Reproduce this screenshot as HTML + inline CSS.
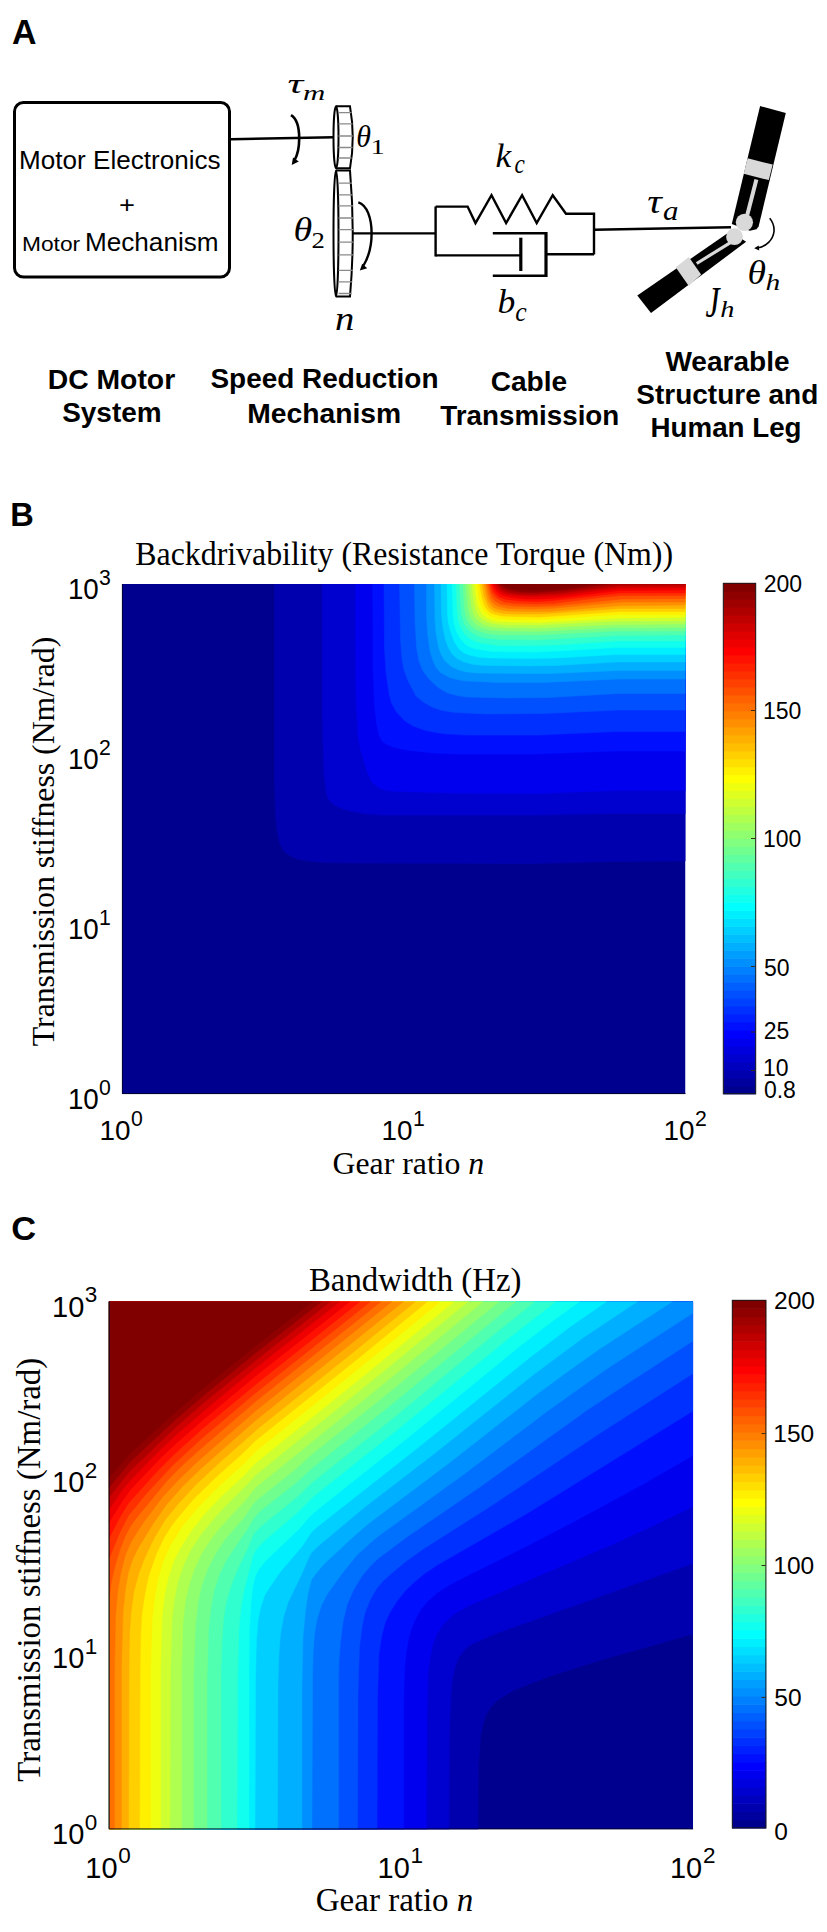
<!DOCTYPE html>
<html><head><meta charset="utf-8"><style>
html,body{margin:0;padding:0;background:#fff;}
body{width:827px;height:1932px;overflow:hidden;}
svg{display:block;}
.s{font-family:"Liberation Sans",sans-serif;}
.sb{font-family:"Liberation Sans",sans-serif;font-weight:bold;}
.r{font-family:"Liberation Serif",serif;}
.ri{font-family:"Liberation Serif",serif;font-style:italic;}
</style></head><body>
<svg width="827" height="1932" viewBox="0 0 827 1932">
<defs><clipPath id="cB"><rect x="122" y="584" width="563.5" height="510"/></clipPath><clipPath id="cC"><rect x="108.8" y="1301.4" width="584.3" height="527.9"/></clipPath></defs>
<rect width="827" height="1932" fill="#fff"/>
<!-- ================= PANEL A ================= -->
<g fill="none" stroke="#000">
<rect x="14.5" y="102.5" width="215" height="174.5" rx="9" stroke-width="3"/>
<path d="M231 139.2 L334 137.3" stroke-width="2.6"/>
<path d="M352.7 233.4 L436 233.4" stroke-width="2.2"/>
<!-- gear 1 -->
<g stroke-width="2">
<ellipse cx="336" cy="137.3" rx="2.5" ry="31"/>
<path d="M336 106.3 L350 106.3 Q355.5 137.3 350 168.3 L336 168.3"/>
<ellipse cx="336" cy="233.5" rx="2.5" ry="63"/>
<path d="M336 170.6 L350 170.6 Q355.5 233.5 350 296.4 L336 296.4"/>
</g>
<g stroke="#8a8a8a" stroke-width="1.3">
<path d="M338.5 112.7H351.5M338.5 123.9H352.5M338.5 136H352.8M338.5 147.5H352.5M338.5 158H351.5"/>
<path d="M338.6 183.2H352M338.6 194.8H352.6M338.6 205.8H353M338.6 218H353.2M338.6 229.6H353.3M338.6 242.2H353.3M338.6 254.8H353.2M338.6 270.3H352.8M338.6 281.9H352.4M338.6 293.5H351.6"/>
</g>
<!-- arrows -->
<path d="M291 115.2 C296.5 118.5 299.2 128 299.2 138.5 C299.2 149 297.5 155 294.5 160.5" stroke-width="2.6"/>
<path d="M358.3 202.3 C367 205 371.6 218 371.6 233.5 C371.6 248 368 258 363.5 265.5" stroke-width="2.4"/>
<path d="M769.7 218.2 C773 222 774.3 227 774 231.5 C773 240 766 246.5 758 247.8" stroke-width="1.6"/>
<!-- spring damper -->
<g stroke-width="2.4" stroke-linejoin="miter">
<path d="M435.6 206.6 V256.4 M435.6 206.6 H467.6 L475.5 223.1 L491.5 195.2 L506.1 223.1 L522.1 195.2 L536.7 223.1 L552.7 195.2 L566 213.8 H594 V254.5 M594 229.8 L731 227.2"/>
<path d="M435.6 255.4 H520.8 M492.8 233.2 H546 M492.8 275.8 H546 M546 254.2 H594"/>
<path d="M520.8 237.7 V271" stroke-width="3.2"/>
<path d="M546 232 V277" stroke-width="3.2"/>
</g>
</g>
<g fill="#000">
<path d="M291.7 165 L293 157.6 L298.8 161.4 Z"/>
<path d="M359.8 270.5 L362.2 263.8 L367.2 268.2 Z"/>
<path d="M754.2 248.2 L758.6 245.6 L759.3 250.6 Z"/>
</g>
<!-- leg -->
<g>
<polygon points="760.1,106.1 785.8,112.9 758.6,226.5 756.5,229.3 749.8,230.8 731.8,224 " fill="#000"/>
<polygon points="747.6,158.3 772.7,164.6 768.8,180.1 743.7,173.8" fill="#d9d9d9"/>
<path d="M756.4 179.5 L747 216" stroke="#d9d9d9" stroke-width="4"/>
<polygon points="637.3,295.4 730.1,231.6 746.1,241.8 651,312.9" fill="#000"/>
<polygon points="675.7,267.2 688.8,257 701.1,274.4 688.8,286" fill="#d9d9d9"/>
<path d="M696.7 263.5 L731.6 241.8" stroke="#d9d9d9" stroke-width="3.2"/>
<circle cx="744.4" cy="222.3" r="8.6" fill="#d9d9d9"/>
<circle cx="734.5" cy="236.7" r="8.4" fill="#d9d9d9"/>
</g>
<!-- math labels -->
<g fill="#000">
<text class="ri" font-size="28.3" transform="translate(287.5 93.3) scale(1.549 1)">τ</text>
<text class="ri" font-size="21.3" transform="translate(302.9 100.3) scale(1.450 1)">m</text>
<text class="ri" font-size="30.8" transform="translate(356.3 146.5) scale(0.973 1)">θ</text>
<text class="r" font-size="21.2" transform="translate(370.5 153.5) scale(1.347 1)">1</text>
<text class="ri" font-size="32.8" transform="translate(293.4 240.7) scale(1.161 1)">θ</text>
<text class="r" font-size="22.7" transform="translate(311.5 247.5) scale(1.177 1)">2</text>
<text class="ri" font-size="32.8" transform="translate(334.9 330.2) scale(1.178 1)">n</text>
<text class="ri" font-size="33.4" transform="translate(495.6 167.2) scale(1.059 1)">k</text>
<text class="ri" font-size="26.5" transform="translate(514.5 173.4) scale(0.877 1)">c</text>
<text class="ri" font-size="33.2" transform="translate(497.5 313.2) scale(1.072 1)">b</text>
<text class="ri" font-size="26.3" transform="translate(515.3 320.5) scale(0.978 1)">c</text>
<text class="ri" font-size="32.8" transform="translate(647.2 212.7) scale(1.238 1)">τ</text>
<text class="ri" font-size="26.5" transform="translate(663.0 219.6) scale(1.169 1)">a</text>
<text class="ri" font-size="33.0" transform="translate(747.6 283.5) scale(1.141 1)">θ</text>
<text class="ri" font-size="23.5" transform="translate(765.4 289.8) scale(1.254 1)">h</text>
<text class="ri" font-size="44.2" transform="translate(705.5 317.2) scale(0.715 1)">J</text>
<text class="ri" font-size="23.5" transform="translate(720.2 317.0) scale(1.204 1)">h</text>
</g>

<!-- ================= PANEL B ================= -->
<g clip-path="url(#cB)">
<rect x="122.0" y="584.0" width="563.5" height="510.0" fill="#00008f"/>
<path fill="#0000af" stroke="#0000af" stroke-width="0.5" d="M275.5 584l410 0 0 277-68.5 0.5-82.5 2-184-0.5-25.5-0.5-16.5-1.5-11.5-2-7.5-3.5-5-3.5-1.5-2.5-3.5-7-2.5-11.5-1.5-18-1-31 0-198z"/>
<path fill="#0000cf" stroke="#0000cf" stroke-width="0.5" d="M322.5 584l363 0 0 229.5-68.5 0-82.5 1.5-151 0-16.5-1-14-2.5-11.5-3-7-3.5-5-4.5-2.5-4.5-1.5-9.5-1.5-14-1.5-53.5z"/>
<path fill="#0000ef" stroke="#0000ef" stroke-width="0.5" d="M358 584l327.5 0 0 206.5-68.5 0-77.5 3-90-0.5-51.5-1.5-12-1-7-2.5-7-6-4.5-9.5-7-23-2.5-14-2-37.5-0.5-63 0-51z"/>
<path fill="#0010ff" stroke="#0010ff" stroke-width="0.5" d="M374.5 584l311 0 0 167-70.5 0-78 3-82.5 0-21.5-1-23.5-2.5-14-2.5-8.5-3.5-3.5-2-2-2.5-2.5-5.5-2.5-11-2-18.5-1.5-35 0-39.5-0.5-46.5z"/>
<path fill="#0030ff" stroke="#0030ff" stroke-width="0.5" d="M386 584l299.5 0 0 147.5-68.5 0-77.5 3.5-73.5 0-18.5-1-12-1.5-11.5-2.5-11-4-8-5-8.5-9-5-9-2.5-9.5-3-21-1.5-23.5-0.5-65z"/>
<path fill="#0050ff" stroke="#0050ff" stroke-width="0.5" d="M400 584l285.5 0 0 126-66 0-75.5 3.5-56.5 0.5-33-1.5-12-2-9.5-3-9-5-8-6.5-8.5-16.5-3.5-9.5-2-11.5-1.5-18.5-0.5-32.5-0.5-23.5z"/>
<path fill="#0070ff" stroke="#0070ff" stroke-width="0.5" d="M416.5 584l269 0 0 109.5-66 0-70.5 4-42.5 0.5-40.5-1-9-1.5-9.5-2.5-9.5-5.5-9.5-9-6-8.5-3.5-9-2.5-14-1.5-25.5-0.5-37.5z"/>
<path fill="#008fff" stroke="#008fff" stroke-width="0.5" d="M428.5 584l257 0 0 95-66 0-75.5 3.5-47 0-31-1.5-7-1-9.5-2.5-9-5-4-4.5-3.5-7-3-9.5-2.5-18.5-1-18.5 0-30.5z"/>
<path fill="#00afff" stroke="#00afff" stroke-width="0.5" d="M435.5 584l250 0 0 86.5-66 0-68.5 3-30.5 0-42.5-0.5-12-1-7-2-7-3-7-6-4-7-2.5-7-2.5-14-1-14-0.5-35z"/>
<path fill="#00cfff" stroke="#00cfff" stroke-width="0.5" d="M442.5 584l243 0 0 78-68.5 0-61 3.5-26 0.5-45-0.5-11.5-1-9.5-2.5-7-3.5-5-4.5-4-7-2.5-7-2.5-12-1.5-13.5-0.5-30.5z"/>
<path fill="#00efff" stroke="#00efff" stroke-width="0.5" d="M447.5 584l238 0 0 70.5-68.5 0-61 3.5-24 0.5-42-0.5-12-1-7-1.5-7-2.5-5-4-4.5-7-3.5-9-2.5-9.5-1-9-0.5-30.5z"/>
<path fill="#10ffef" stroke="#10ffef" stroke-width="0.5" d="M452 584l233.5 0 0 63.5-68.5 0-59 3.5-23.5 1-42.5-0.5-16.5-2.5-7-2.5-4.5-3.5-4.5-5.5-3.5-7-2-7-1-9z"/>
<path fill="#30ffcf" stroke="#30ffcf" stroke-width="0.5" d="M457 584l228.5 0 0 57-68.5 0-61 4-21.5 0.5-37.5 0-16.5-2.5-7-2.5-5-3-4.5-4.5-4-7-2-7-1-9.5-1-25.5z"/>
<path fill="#50ffaf" stroke="#50ffaf" stroke-width="0.5" d="M461.5 584l224 0 0 51-68.5 0.5-80 4.5-38-0.5-14-1.5-7-2-7-4-4-4-3-4.5-2.5-9-1-12-1-18.5z"/>
<path fill="#70ff8f" stroke="#70ff8f" stroke-width="0.5" d="M464 584l221.5 0 0 47-68.5 0-80 4-35.5 0-14-1.5-7-2-5-2-4.5-3.5-3-4.5-2.5-7-1-7-1.5-23.5z"/>
<path fill="#8fff70" stroke="#8fff70" stroke-width="0.5" d="M466 584l219.5 0 0 43.5-68.5 0-80 4-33-0.5-14-1-7.5-2-4.5-2-3-2.5-3.5-4.5-2-4.5-1.5-7z"/>
<path fill="#afff50" stroke="#afff50" stroke-width="0.5" d="M471 584l214.5 0 0 40-68.5 0.5-77.5 3.5-33 0-14.5-1-7-2-4.5-2.5-4-3.5-3-4.5-2-7-1.5-12-1-11.5z"/>
<path fill="#cfff30" stroke="#cfff30" stroke-width="0.5" d="M473.5 584l212 0 0 37-66 0-82.5 4-30.5 0-14.5-1.5-4.5-1.5-5-2.5-3-3-3-4.5-2-7-1.5-9.5-1-11.5z"/>
<path fill="#efff10" stroke="#efff10" stroke-width="0.5" d="M475.5 584l210 0 0 33.5-66 0.5-80 4.5-28.5-0.5-14.5-0.5-4.5-1-4.5-2-5-4-3-5-2-4.5-1.5-9.5-1.5-11.5z"/>
<path fill="#ffef00" stroke="#ffef00" stroke-width="0.5" d="M478 584l207.5 0 0 30.5-66 0-80 5-26 0-14.5-1-4.5-1-4.5-1.5-6.5-6.5-2.5-4.5-2-7-2-14z"/>
<path fill="#ffcf00" stroke="#ffcf00" stroke-width="0.5" d="M480.5 584l205 0 0 27.5-66 0-80 5.5-24-0.5-14-0.5-9.5-2.5-2.5-1.5-4-4.5-2-5-2-7-2-11.5z"/>
<path fill="#ffaf00" stroke="#ffaf00" stroke-width="0.5" d="M482.5 584l203 0 0 24.5-66 0-78 5.5-23.5 0-14-0.5-9.5-2-5.5-4-2.5-5-2.5-7-2-11.5z"/>
<path fill="#ff8f00" stroke="#ff8f00" stroke-width="0.5" d="M485 584l200.5 0 0 21-63.5 0.5-73 6-21.5 0-21-0.5-9.5-2-3.5-1.5-2.5-2.5-3-4.5-2-7-2-9.5z"/>
<path fill="#ff7000" stroke="#ff7000" stroke-width="0.5" d="M487.5 584l198 0 0 18-63.5 0-71 6.5-19 0.5-23.5-0.5-9.5-2-3.5-1.5-3.5-3-2.5-4-2-7-1.5-7z"/>
<path fill="#ff5000" stroke="#ff5000" stroke-width="0.5" d="M490 584l195.5 0 0 14.5-63.5 0.5-68.5 7-19 0.5-21-0.5-12-1.5-4-2-3-2-2.5-3-2.5-6.5-2-7z"/>
<path fill="#ff3000" stroke="#ff3000" stroke-width="0.5" d="M490 584l195.5 0 0 11.5-63.5 0-16.5 1.5-52 6.5-19 0.5-19-0.5-11.5-1.5-7-3.5-5-5.5-2-6.5-0.5-2.5z"/>
<path fill="#ff1000" stroke="#ff1000" stroke-width="0.5" d="M492 584l193.5 0 0 9-66 0-66 7.5-16.5 1-16.5-0.5-14-1.5-7.5-2.5-2-2-3.5-4-2.5-7z"/>
<path fill="#ef0000" stroke="#ef0000" stroke-width="0.5" d="M494.5 584l191 0 0 6-66 0.5-63.5 7.5-16.5 1-14.5 0-14-1.5-9.5-2.5-4.5-3.5-2-3-2.5-4.5z"/>
<path fill="#cf0000" stroke="#cf0000" stroke-width="0.5" d="M497 584l188.5 0 0 3.5-66 0.5-61.5 7.5-28 1-16.5-1-9.5-2-4-2.5-3-3-2.5-4z"/>
<path fill="#af0000" stroke="#af0000" stroke-width="0.5" d="M497 584l188.5 0 0 1-66 0.5-59 7.5-28.5 1.5-14-0.5-9.5-1.5-7-3z"/>
<path fill="#8f0000" stroke="#8f0000" stroke-width="0.5" d="M499 584l111 0-47 6.5-28.5 2-14-0.5-9.5-1.5-7-2.5z"/>
<path fill="#800000" stroke="#800000" stroke-width="0.5" d="M504 584l90.5 0-36.5 5-23.5 1.5-21-1.5-7-2-4.5-3z"/>
</g>
<path d="M122.4 584 V1093.6 H685.5" fill="none" stroke="#000028" stroke-width="0.9"/>
<rect x="723.3" y="1085.82" width="32.5" height="8.58" fill="#00008f"/>
<rect x="723.3" y="1077.84" width="32.5" height="8.58" fill="#00009f"/>
<rect x="723.3" y="1069.86" width="32.5" height="8.58" fill="#0000af"/>
<rect x="723.3" y="1061.88" width="32.5" height="8.58" fill="#0000bf"/>
<rect x="723.3" y="1053.89" width="32.5" height="8.58" fill="#0000cf"/>
<rect x="723.3" y="1045.91" width="32.5" height="8.58" fill="#0000df"/>
<rect x="723.3" y="1037.93" width="32.5" height="8.58" fill="#0000ef"/>
<rect x="723.3" y="1029.95" width="32.5" height="8.58" fill="#0000ff"/>
<rect x="723.3" y="1021.97" width="32.5" height="8.58" fill="#0010ff"/>
<rect x="723.3" y="1013.99" width="32.5" height="8.58" fill="#0020ff"/>
<rect x="723.3" y="1006.01" width="32.5" height="8.58" fill="#0030ff"/>
<rect x="723.3" y="998.02" width="32.5" height="8.58" fill="#0040ff"/>
<rect x="723.3" y="990.04" width="32.5" height="8.58" fill="#0050ff"/>
<rect x="723.3" y="982.06" width="32.5" height="8.58" fill="#0060ff"/>
<rect x="723.3" y="974.08" width="32.5" height="8.58" fill="#0070ff"/>
<rect x="723.3" y="966.10" width="32.5" height="8.58" fill="#0080ff"/>
<rect x="723.3" y="958.12" width="32.5" height="8.58" fill="#008fff"/>
<rect x="723.3" y="950.14" width="32.5" height="8.58" fill="#009fff"/>
<rect x="723.3" y="942.16" width="32.5" height="8.58" fill="#00afff"/>
<rect x="723.3" y="934.17" width="32.5" height="8.58" fill="#00bfff"/>
<rect x="723.3" y="926.19" width="32.5" height="8.58" fill="#00cfff"/>
<rect x="723.3" y="918.21" width="32.5" height="8.58" fill="#00dfff"/>
<rect x="723.3" y="910.23" width="32.5" height="8.58" fill="#00efff"/>
<rect x="723.3" y="902.25" width="32.5" height="8.58" fill="#00ffff"/>
<rect x="723.3" y="894.27" width="32.5" height="8.58" fill="#10ffef"/>
<rect x="723.3" y="886.29" width="32.5" height="8.58" fill="#20ffdf"/>
<rect x="723.3" y="878.31" width="32.5" height="8.58" fill="#30ffcf"/>
<rect x="723.3" y="870.33" width="32.5" height="8.58" fill="#40ffbf"/>
<rect x="723.3" y="862.34" width="32.5" height="8.58" fill="#50ffaf"/>
<rect x="723.3" y="854.36" width="32.5" height="8.58" fill="#60ff9f"/>
<rect x="723.3" y="846.38" width="32.5" height="8.58" fill="#70ff8f"/>
<rect x="723.3" y="838.40" width="32.5" height="8.58" fill="#80ff80"/>
<rect x="723.3" y="830.42" width="32.5" height="8.58" fill="#8fff70"/>
<rect x="723.3" y="822.44" width="32.5" height="8.58" fill="#9fff60"/>
<rect x="723.3" y="814.46" width="32.5" height="8.58" fill="#afff50"/>
<rect x="723.3" y="806.47" width="32.5" height="8.58" fill="#bfff40"/>
<rect x="723.3" y="798.49" width="32.5" height="8.58" fill="#cfff30"/>
<rect x="723.3" y="790.51" width="32.5" height="8.58" fill="#dfff20"/>
<rect x="723.3" y="782.53" width="32.5" height="8.58" fill="#efff10"/>
<rect x="723.3" y="774.55" width="32.5" height="8.58" fill="#ffff00"/>
<rect x="723.3" y="766.57" width="32.5" height="8.58" fill="#ffef00"/>
<rect x="723.3" y="758.59" width="32.5" height="8.58" fill="#ffdf00"/>
<rect x="723.3" y="750.61" width="32.5" height="8.58" fill="#ffcf00"/>
<rect x="723.3" y="742.62" width="32.5" height="8.58" fill="#ffbf00"/>
<rect x="723.3" y="734.64" width="32.5" height="8.58" fill="#ffaf00"/>
<rect x="723.3" y="726.66" width="32.5" height="8.58" fill="#ff9f00"/>
<rect x="723.3" y="718.68" width="32.5" height="8.58" fill="#ff8f00"/>
<rect x="723.3" y="710.70" width="32.5" height="8.58" fill="#ff8000"/>
<rect x="723.3" y="702.72" width="32.5" height="8.58" fill="#ff7000"/>
<rect x="723.3" y="694.74" width="32.5" height="8.58" fill="#ff6000"/>
<rect x="723.3" y="686.76" width="32.5" height="8.58" fill="#ff5000"/>
<rect x="723.3" y="678.77" width="32.5" height="8.58" fill="#ff4000"/>
<rect x="723.3" y="670.79" width="32.5" height="8.58" fill="#ff3000"/>
<rect x="723.3" y="662.81" width="32.5" height="8.58" fill="#ff2000"/>
<rect x="723.3" y="654.83" width="32.5" height="8.58" fill="#ff1000"/>
<rect x="723.3" y="646.85" width="32.5" height="8.58" fill="#ff0000"/>
<rect x="723.3" y="638.87" width="32.5" height="8.58" fill="#ef0000"/>
<rect x="723.3" y="630.89" width="32.5" height="8.58" fill="#df0000"/>
<rect x="723.3" y="622.91" width="32.5" height="8.58" fill="#cf0000"/>
<rect x="723.3" y="614.92" width="32.5" height="8.58" fill="#bf0000"/>
<rect x="723.3" y="606.94" width="32.5" height="8.58" fill="#af0000"/>
<rect x="723.3" y="598.96" width="32.5" height="8.58" fill="#9f0000"/>
<rect x="723.3" y="590.98" width="32.5" height="8.58" fill="#8f0000"/>
<rect x="723.3" y="583.00" width="32.5" height="8.58" fill="#800000"/>
<rect x="723.3" y="583.3" width="32.4" height="510.4" fill="none" stroke="#1a1a1a" stroke-width="1"/>
<path d="M751 710.5H755.5M751 838.5H755.5M751 966.4H755.5M751 1032H755.5M751 1070.4H755.5" stroke="#3a2a1a" stroke-width="1"/>

<!-- ================= PANEL C ================= -->
<g clip-path="url(#cC)">
<rect x="108.8" y="1301.4" width="584.3" height="527.9" fill="#00008f"/>
<path fill="#0000af" stroke="#0000af" stroke-width="0.5" d="M111 1301.5l582 0 0 332.5-93.5 26.5-50.5 16-33.5 13-10.5 6-9 6-6 6.5-4.5 8-2.5 8-2.5 11.5-2 31-0.5 63-369 0 0-528z"/>
<path fill="#0000cf" stroke="#0000cf" stroke-width="0.5" d="M111 1301.5l582 0 0 262-195.5 69.5-24.5 10.5-5 3-4.5 4.5-5 7-3 7.5-3 12-1.5 14.5-1.5 38.5-0.5 99-340 0 0-528z"/>
<path fill="#0000ef" stroke="#0000ef" stroke-width="0.5" d="M111 1301.5l582 0 0 205-34 16.5-42 19.5-149 63.5-14.5 8.5-10.5 10-6 9.5-4 9.5-2.5 12-2.5 17-1 41-0.5 116-317.5 0 0-528z"/>
<path fill="#0010ff" stroke="#0010ff" stroke-width="0.5" d="M111 1301.5l582 0 0 154-50.5 29-64.5 35-51 26.5-63.5 31.5-15 8-11.5 7.5-8 7-7.5 8.5-5 8.5-4.5 10-3.5 12-2.5 14.5-1.5 16.5-1 43.5 0 116-294.5 0 0-528z"/>
<path fill="#0030ff" stroke="#0030ff" stroke-width="0.5" d="M111 1301.5l582 0 0 109.5-166 102.5-90.5 52-12.5 8.5-9.5 8-9 8.5-8 10-7.5 11.5-5 11-3.5 13.5-2.5 17-1.5 43-0.5 133-268 0 0-528z"/>
<path fill="#0050ff" stroke="#0050ff" stroke-width="0.5" d="M111 1301.5l582 0 0 72-95 61-105.5 70.5-70 44.5-15.5 11-14.5 12-9.5 8.5-6 7-6.5 11-5.5 13.5-3 14.5-2.5 19-1.5 46-0.5 137.5-248.5 0 0-528z"/>
<path fill="#0070ff" stroke="#0070ff" stroke-width="0.5" d="M111 1301.5l582 0 0 39.5-65.5 42.5-39.5 26-108 77.5-73 50-29.5 22-7.5 7.5-8 9.5-8.5 14-6.5 15-4 17-2.5 19.5-1.5 19-0.5 29 0 140-229.5 0 0-528z"/>
<path fill="#008fff" stroke="#008fff" stroke-width="0.5" d="M111 1301.5l582 0 0 11.5-85.5 55.5-58.5 41.5-86 65-86.5 62.5-19 17-14 17-15.5 21.5-6.5 12-4.5 14.5-2.5 14.5-1.5 19.5-0.5 29-0.5 147-203 0 0-528z"/>
<path fill="#00afff" stroke="#00afff" stroke-width="0.5" d="M111 1301.5l561.5 0-74.5 48.5-29.5 21-30 22-90 70.5-80.5 60.5-14.5 12.5-29.5 27.5-8.5 10-4 5.5-3.5 13.5-2.5 17-2.5 26.5-1 48 0 145-193 0 0-528z"/>
<path fill="#00cfff" stroke="#00cfff" stroke-width="0.5" d="M111 1301.5l526.5 0-54 36-48.5 36-103 82-66.5 51-46 38.5-8 7.5-2.5 4.5-7 16.5-14 29-4.5 14.5-3 17-1.5 19.5-1 29-0.5 147-168.5 0 0-528z"/>
<path fill="#00efff" stroke="#00efff" stroke-width="0.5" d="M111 1301.5l495.5 0-38 26.5-38 29-110.5 89-103.5 81.5-5 4.5-9.5 14.5-21.5 25-10 14.5-6 9.5-4 12-2.5 13-1.5 18.5-1 38.5-0.5 152-146 0 0-528z"/>
<path fill="#10ffef" stroke="#10ffef" stroke-width="0.5" d="M111 1301.5l468.5 0-29.5 21.5-30.5 23.5-110 90-95.5 76-4.5 4.5-10 11.5-34 32.5-6.5 8-3.5 6.5-2.5 9.5-2 17.5-1.5 26.5-0.5 48.5 0 152-140 0 0-528z"/>
<path fill="#30ffcf" stroke="#30ffcf" stroke-width="0.5" d="M111 1301.5l445 0-46.5 36-107.5 88.5-88 70-17 17-34 29-7.5 8.5-2.5 5-9 35-3 17-2 21.5-1.5 51-0.5 149.5-128 0 0-528z"/>
<path fill="#50ffaf" stroke="#50ffaf" stroke-width="0.5" d="M111 1301.5l424 0-42 33.5-98 81.5-82.5 65.5-15.5 15-36.5 29.5-5 5-2.5 3.5-5 12.5-11.5 24-5.5 14.5-5 16.5-2.5 17-1.5 22-1 28.5 0 159.5-112 0 0-528z"/>
<path fill="#70ff8f" stroke="#70ff8f" stroke-width="0.5" d="M111 1301.5l405 0-121 100-83.5 67-17 15.5-34.5 27-7 8-5 9-22 32.5-6.5 13.5-5.5 16.5-3 17-2.5 21.5-1.5 51 0 149.5-98 0 0-528z"/>
<path fill="#8fff70" stroke="#8fff70" stroke-width="0.5" d="M111 1301.5l388 0-104 86-83.5 67-17 15.5-36.5 29-5 5-5 7.5-4.5 6.5-19 22-9.5 14.5-7.5 14.5-6 17-3.5 16.5-2.5 22-2 50.5 0 154.5-84.5 0 0-528z"/>
<path fill="#afff50" stroke="#afff50" stroke-width="0.5" d="M111 1301.5l372 0-90.5 75-137 111-10 12.5-26 28-10.5 14-7.5 11.5-7 15-5 15-4 17-2.5 21.5-1.5 50.5 0 157-72.5 0 0-528z"/>
<path fill="#cfff30" stroke="#cfff30" stroke-width="0.5" d="M111 1301.5l357 0-80.5 66.5-132 107-10 11-22.5 22.5-11 12.5-11.5 14-9.5 14.5-7 14.5-6 17-3.5 17-2.5 21.5-1.5 50.5-0.5 159.5-61 0 0-528z"/>
<path fill="#efff10" stroke="#efff10" stroke-width="0.5" d="M111 1301.5l343 0-74 61-124.5 100.5-12 13-22.5 20.5-17 18-12.5 16-11 17-7 14-5.5 17-3.5 17-2.5 21.5-1.5 53 0 159.5-51.5 0 0-528z"/>
<path fill="#ffef00" stroke="#ffef00" stroke-width="0.5" d="M111 1301.5l329.5 0-75 61.5-110 88.5-12 12.5-25.5 23-21 21.5-15 18-11.5 18.5-7.5 16.5-5 17-3.5 19.5-2.5 21.5-1.5 50.5 0 159.5-41.5 0 0-528z"/>
<path fill="#ffcf00" stroke="#ffcf00" stroke-width="0.5" d="M111 1301.5l316.5 0-69.5 57-102.5 82-12 12-28 25-22 21.5-16.5 19.5-7 9.5-6 9.5-8 17-7.5 21.5-4 19.5-3 21.5-1 22-0.5 31-0.5 159.5-30.5 0 0-528z"/>
<path fill="#ffaf00" stroke="#ffaf00" stroke-width="0.5" d="M111 1301.5l304.5 0-67 54.5-90.5 72.5-39 34.5-23 21.5-18 19.5-13 16-10.5 17.5-9.5 19.5-6.5 17-5 19-2.5 20-1.5 21-0.5 31.5-0.5 164-19.5 0 0-528z"/>
<path fill="#ff8f00" stroke="#ff8f00" stroke-width="0.5" d="M111 1301.5l292.5 0-148 119-54 47.5-19.5 19-15 17-13.5 19-15 24.5-6 12-4 12.5-3 16-2.5 24.5-1.5 53 0 164-12.5 0 0-528z"/>
<path fill="#ff7000" stroke="#ff7000" stroke-width="0.5" d="M111 1301.5l281 0-136.5 109.5-58.5 51-19.5 19-14.5 15.5-20 26.5-12 19-5.5 12.5-5 19.5-3 19-2 24-1 53 0 159.5-5.5 0 0-528z"/>
<path fill="#ff5000" stroke="#ff5000" stroke-width="0.5" d="M111 1301.5l270 0-125.5 100-58.5 50.5-17.5 16-13.5 14-30 36.5-5 7-5 9-6 15-4.5 14.5-4 17-2.5 18 0-297.5z"/>
<path fill="#ff3000" stroke="#ff3000" stroke-width="0.5" d="M111 1301.5l259.5 0-115 91.5-54.5 46-28.5 26.5-26.5 28.5-17.5 21.5-9 17.5-10.5 26 0-257.5z"/>
<path fill="#ff1000" stroke="#ff1000" stroke-width="0.5" d="M111 1301.5l249 0-104.5 83-53.5 44.5-27 24.5-19 19-27.5 30.5-8 13-11.5 22 0-236.5z"/>
<path fill="#ef0000" stroke="#ef0000" stroke-width="0.5" d="M111 1301.5l239 0-94.5 74.5-52 43.5-27.5 24-16 15-29.5 31-8.5 12-13 21 0-221z"/>
<path fill="#cf0000" stroke="#cf0000" stroke-width="0.5" d="M111 1301.5l229 0-84.5 66.5-50.5 42-28 24-17 16-29.5 30-8 9.5-13.5 20 0-208z"/>
<path fill="#af0000" stroke="#af0000" stroke-width="0.5" d="M111 1301.5l219.5 0-75 59-51.5 42-26.5 23-46.5 44.5-6.5 7.5-15.5 20 0-196z"/>
<path fill="#8f0000" stroke="#8f0000" stroke-width="0.5" d="M111 1301.5l210.5 0-66 51.5-52 42.5-28 24-44.5 41.5-22 26.5 0-186z"/>
<path fill="#800000" stroke="#800000" stroke-width="0.5" d="M111 1301.5l201.5 0-57 44.5-52 42-28.5 24.5-44 40-22 25 0-176z"/>
</g>
<path d="M109.2 1301.4 V1828.9 H693.1" fill="none" stroke="#000028" stroke-width="0.9"/>
<rect x="732.1" y="1819.75" width="34.1" height="8.85" fill="#00008f"/>
<rect x="732.1" y="1811.50" width="34.1" height="8.85" fill="#00009f"/>
<rect x="732.1" y="1803.25" width="34.1" height="8.85" fill="#0000af"/>
<rect x="732.1" y="1795.00" width="34.1" height="8.85" fill="#0000bf"/>
<rect x="732.1" y="1786.75" width="34.1" height="8.85" fill="#0000cf"/>
<rect x="732.1" y="1778.50" width="34.1" height="8.85" fill="#0000df"/>
<rect x="732.1" y="1770.25" width="34.1" height="8.85" fill="#0000ef"/>
<rect x="732.1" y="1762.00" width="34.1" height="8.85" fill="#0000ff"/>
<rect x="732.1" y="1753.75" width="34.1" height="8.85" fill="#0010ff"/>
<rect x="732.1" y="1745.50" width="34.1" height="8.85" fill="#0020ff"/>
<rect x="732.1" y="1737.25" width="34.1" height="8.85" fill="#0030ff"/>
<rect x="732.1" y="1729.00" width="34.1" height="8.85" fill="#0040ff"/>
<rect x="732.1" y="1720.75" width="34.1" height="8.85" fill="#0050ff"/>
<rect x="732.1" y="1712.50" width="34.1" height="8.85" fill="#0060ff"/>
<rect x="732.1" y="1704.25" width="34.1" height="8.85" fill="#0070ff"/>
<rect x="732.1" y="1696.00" width="34.1" height="8.85" fill="#0080ff"/>
<rect x="732.1" y="1687.75" width="34.1" height="8.85" fill="#008fff"/>
<rect x="732.1" y="1679.50" width="34.1" height="8.85" fill="#009fff"/>
<rect x="732.1" y="1671.25" width="34.1" height="8.85" fill="#00afff"/>
<rect x="732.1" y="1663.00" width="34.1" height="8.85" fill="#00bfff"/>
<rect x="732.1" y="1654.75" width="34.1" height="8.85" fill="#00cfff"/>
<rect x="732.1" y="1646.50" width="34.1" height="8.85" fill="#00dfff"/>
<rect x="732.1" y="1638.25" width="34.1" height="8.85" fill="#00efff"/>
<rect x="732.1" y="1630.00" width="34.1" height="8.85" fill="#00ffff"/>
<rect x="732.1" y="1621.75" width="34.1" height="8.85" fill="#10ffef"/>
<rect x="732.1" y="1613.50" width="34.1" height="8.85" fill="#20ffdf"/>
<rect x="732.1" y="1605.25" width="34.1" height="8.85" fill="#30ffcf"/>
<rect x="732.1" y="1597.00" width="34.1" height="8.85" fill="#40ffbf"/>
<rect x="732.1" y="1588.75" width="34.1" height="8.85" fill="#50ffaf"/>
<rect x="732.1" y="1580.50" width="34.1" height="8.85" fill="#60ff9f"/>
<rect x="732.1" y="1572.25" width="34.1" height="8.85" fill="#70ff8f"/>
<rect x="732.1" y="1564.00" width="34.1" height="8.85" fill="#80ff80"/>
<rect x="732.1" y="1555.75" width="34.1" height="8.85" fill="#8fff70"/>
<rect x="732.1" y="1547.50" width="34.1" height="8.85" fill="#9fff60"/>
<rect x="732.1" y="1539.25" width="34.1" height="8.85" fill="#afff50"/>
<rect x="732.1" y="1531.00" width="34.1" height="8.85" fill="#bfff40"/>
<rect x="732.1" y="1522.75" width="34.1" height="8.85" fill="#cfff30"/>
<rect x="732.1" y="1514.50" width="34.1" height="8.85" fill="#dfff20"/>
<rect x="732.1" y="1506.25" width="34.1" height="8.85" fill="#efff10"/>
<rect x="732.1" y="1498.00" width="34.1" height="8.85" fill="#ffff00"/>
<rect x="732.1" y="1489.75" width="34.1" height="8.85" fill="#ffef00"/>
<rect x="732.1" y="1481.50" width="34.1" height="8.85" fill="#ffdf00"/>
<rect x="732.1" y="1473.25" width="34.1" height="8.85" fill="#ffcf00"/>
<rect x="732.1" y="1465.00" width="34.1" height="8.85" fill="#ffbf00"/>
<rect x="732.1" y="1456.75" width="34.1" height="8.85" fill="#ffaf00"/>
<rect x="732.1" y="1448.50" width="34.1" height="8.85" fill="#ff9f00"/>
<rect x="732.1" y="1440.25" width="34.1" height="8.85" fill="#ff8f00"/>
<rect x="732.1" y="1432.00" width="34.1" height="8.85" fill="#ff8000"/>
<rect x="732.1" y="1423.75" width="34.1" height="8.85" fill="#ff7000"/>
<rect x="732.1" y="1415.50" width="34.1" height="8.85" fill="#ff6000"/>
<rect x="732.1" y="1407.25" width="34.1" height="8.85" fill="#ff5000"/>
<rect x="732.1" y="1399.00" width="34.1" height="8.85" fill="#ff4000"/>
<rect x="732.1" y="1390.75" width="34.1" height="8.85" fill="#ff3000"/>
<rect x="732.1" y="1382.50" width="34.1" height="8.85" fill="#ff2000"/>
<rect x="732.1" y="1374.25" width="34.1" height="8.85" fill="#ff1000"/>
<rect x="732.1" y="1366.00" width="34.1" height="8.85" fill="#ff0000"/>
<rect x="732.1" y="1357.75" width="34.1" height="8.85" fill="#ef0000"/>
<rect x="732.1" y="1349.50" width="34.1" height="8.85" fill="#df0000"/>
<rect x="732.1" y="1341.25" width="34.1" height="8.85" fill="#cf0000"/>
<rect x="732.1" y="1333.00" width="34.1" height="8.85" fill="#bf0000"/>
<rect x="732.1" y="1324.75" width="34.1" height="8.85" fill="#af0000"/>
<rect x="732.1" y="1316.50" width="34.1" height="8.85" fill="#9f0000"/>
<rect x="732.1" y="1308.25" width="34.1" height="8.85" fill="#8f0000"/>
<rect x="732.1" y="1300.00" width="34.1" height="8.85" fill="#800000"/>
<rect x="732.3" y="1300.3" width="33.6" height="527.6" fill="none" stroke="#1a1a1a" stroke-width="1"/>
<path d="M761.5 1433.6H765.8M761.5 1565.5H765.8M761.5 1697.4H765.8" stroke="#3a2a1a" stroke-width="1"/>
<g fill="#000">
<text class="sb" font-size="35.00" transform="translate(11.98 44.45) scale(0.9697 1)">A</text>
<text class="sb" font-size="33.04" transform="translate(10.32 525.70) scale(0.9873 1)">B</text>
<text class="sb" font-size="33.38" transform="translate(11.22 1240.27) scale(1.0324 1)">C</text>
<text class="sb" font-size="28.50" transform="translate(47.72 388.50) scale(0.9945 1)">DC Motor</text>
<text class="sb" font-size="28.50" transform="translate(62.16 422.30) scale(0.9816 1)">System</text>
<text class="sb" font-size="28.50" transform="translate(210.46 388.10) scale(0.9801 1)">Speed Reduction</text>
<text class="sb" font-size="28.50" transform="translate(247.22 423.10) scale(0.9918 1)">Mechanism</text>
<text class="sb" font-size="28.50" transform="translate(490.68 391.10) scale(0.9864 1)">Cable</text>
<text class="sb" font-size="28.50" transform="translate(440.32 424.80) scale(0.9744 1)">Transmission</text>
<text class="sb" font-size="28.50" transform="translate(665.40 370.70) scale(0.9839 1)">Wearable</text>
<text class="sb" font-size="28.50" transform="translate(636.26 404.10) scale(0.9825 1)">Structure and</text>
<text class="sb" font-size="28.50" transform="translate(650.46 436.70) scale(0.9740 1)">Human Leg</text>
<text class="s" font-size="25.40" transform="translate(19.11 168.60) scale(1.0269 1)">Motor Electronics</text>
<text class="s" font-size="24.50" transform="translate(119.04 213.20) scale(1.1139 1)">+</text>
<text class="s" font-size="20.50" transform="translate(21.98 251.30) scale(1.1105 1)">Motor</text>
<text class="s" font-size="25.20" transform="translate(84.91 251.30) scale(1.0380 1)">Mechanism</text>
<text class="r" font-size="32.80" transform="translate(135.24 564.60) scale(0.9718 1)">Backdrivability (Resistance Torque (Nm))</text>
<text class="r" font-size="33.20" transform="translate(308.91 1290.80) scale(0.9897 1)">Bandwidth (Hz)</text>
<text class="r" font-size="32.00" transform="translate(332.53 1174.00) scale(0.9935 1)">Gear ratio <tspan font-style='italic'>n</tspan></text>
<text class="r" font-size="33.00" transform="translate(315.78 1911.40)">Gear ratio <tspan font-style='italic'>n</tspan></text>
<text class="r" font-size="32.00" transform="translate(54.20 1046.24) rotate(-90) scale(0.9936 1)">Transmission stiffness (Nm/rad)</text>
<text class="r" font-size="33.00" transform="translate(39.50 1781.66) rotate(-90) scale(0.9970 1)">Transmission stiffness (Nm/rad)</text>
<text class="s" font-size="28.59" transform="translate(67.88 598.61) scale(0.9715 1)">10</text>
<text class="s" font-size="21.69" transform="translate(98.95 584.78) scale(0.9797 1)">3</text>
<text class="s" font-size="28.59" transform="translate(67.88 768.61) scale(0.9715 1)">10</text>
<text class="s" font-size="21.69" transform="translate(98.95 754.78) scale(0.9797 1)">2</text>
<text class="s" font-size="28.59" transform="translate(67.88 938.61) scale(0.9715 1)">10</text>
<text class="s" font-size="21.69" transform="translate(98.95 924.78) scale(0.9797 1)">1</text>
<text class="s" font-size="28.59" transform="translate(67.88 1108.61) scale(0.9715 1)">10</text>
<text class="s" font-size="21.69" transform="translate(98.95 1094.78) scale(0.9797 1)">0</text>
<text class="s" font-size="28.03" transform="translate(99.47 1140.32) scale(0.9947 1)">10</text>
<text class="s" font-size="21.69" transform="translate(130.95 1126.48) scale(0.9797 1)">0</text>
<text class="s" font-size="28.03" transform="translate(381.47 1140.32) scale(0.9947 1)">10</text>
<text class="s" font-size="21.69" transform="translate(412.95 1126.48) scale(0.9797 1)">1</text>
<text class="s" font-size="28.03" transform="translate(663.47 1140.32) scale(0.9947 1)">10</text>
<text class="s" font-size="21.69" transform="translate(694.95 1126.48) scale(0.9797 1)">2</text>
<text class="s" font-size="29.01" transform="translate(52.08 1316.51)">10</text>
<text class="s" font-size="22.25" transform="translate(84.70 1301.98) scale(1.0111 1)">3</text>
<text class="s" font-size="29.01" transform="translate(52.08 1492.41)">10</text>
<text class="s" font-size="22.25" transform="translate(84.70 1477.88) scale(1.0111 1)">2</text>
<text class="s" font-size="29.01" transform="translate(52.08 1668.31)">10</text>
<text class="s" font-size="22.25" transform="translate(84.70 1653.78) scale(1.0111 1)">1</text>
<text class="s" font-size="29.01" transform="translate(52.08 1844.21)">10</text>
<text class="s" font-size="22.25" transform="translate(84.70 1829.68) scale(1.0111 1)">0</text>
<text class="s" font-size="29.15" transform="translate(85.28 1878.21) scale(0.9943 1)">10</text>
<text class="s" font-size="22.25" transform="translate(118.30 1862.98) scale(1.0111 1)">0</text>
<text class="s" font-size="29.15" transform="translate(377.58 1878.21) scale(0.9943 1)">10</text>
<text class="s" font-size="22.25" transform="translate(410.60 1862.98) scale(1.0111 1)">1</text>
<text class="s" font-size="29.15" transform="translate(669.88 1878.21) scale(0.9943 1)">10</text>
<text class="s" font-size="22.25" transform="translate(702.90 1862.98) scale(1.0111 1)">2</text>
<text class="s" font-size="23.00" transform="translate(763.65 592.13)">200</text>
<text class="s" font-size="23.00" transform="translate(762.96 719.23)">150</text>
<text class="s" font-size="23.00" transform="translate(762.96 847.23)">100</text>
<text class="s" font-size="23.00" transform="translate(763.88 975.63)">50</text>
<text class="s" font-size="23.00" transform="translate(763.65 1039.43)">25</text>
<text class="s" font-size="23.00" transform="translate(762.96 1076.34)">10</text>
<text class="s" font-size="23.00" transform="translate(763.88 1098.43)">0.8</text>
<text class="s" font-size="24.50" transform="translate(774.07 1309.45)">200</text>
<text class="s" font-size="24.50" transform="translate(773.34 1441.75)">150</text>
<text class="s" font-size="24.50" transform="translate(773.34 1573.95)">100</text>
<text class="s" font-size="24.50" transform="translate(774.32 1706.05)">50</text>
<text class="s" font-size="24.50" transform="translate(774.32 1839.55)">0</text>
</g>
</svg>
</body></html>
